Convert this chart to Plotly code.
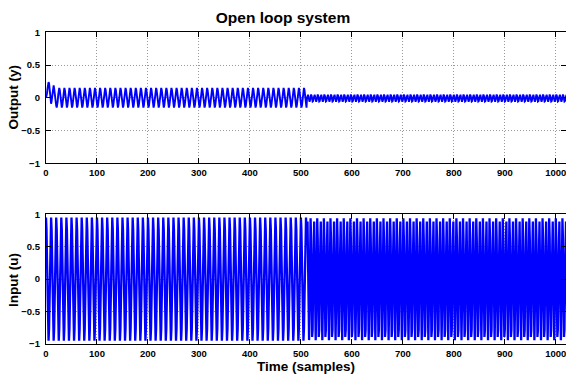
import numpy as np
import plotly.graph_objects as go
from plotly.subplots import make_subplots

# ---------------- data ----------------
n_samples = 1024          # sample index 0..1023
switch_sample = 512       # frequency change of the excitation

# input u: one cycle of the first (slow) part, period 10 samples
u_cycle_slow = [0.95, 0.77, 0.29, -0.29, -0.77, -0.95, -0.77, -0.29, 0.29, 0.77]
# input u: two cycles of the second (fast) part, 13 samples
u_cycle_fast = [0.78, 0.89, 0.23, -0.63, -0.94, -0.44, 0.44, 0.94, 0.63, -0.23, -0.89, -0.78, 0.0]

# output y: start-up transient (first 20 samples)
y_transient = [0.0, 0.02, 0.07, 0.14, 0.20, 0.24, 0.22, 0.14, 0.03, -0.06,
               -0.09, -0.05, 0.04, 0.12, 0.18, 0.19, 0.14, 0.05, -0.06, -0.12]
# output y: one steady cycle of the slow part, period 10 samples
y_cycle_slow = [-0.12, -0.15, -0.12, -0.05, 0.05, 0.12, 0.15, 0.12, 0.05, -0.05]
# output y: two cycles of the fast part, 13 samples
y_cycle_fast = [-0.005, 0.040, 0.046, 0.008, -0.041, -0.060, -0.031, 0.021, 0.050, 0.031, -0.018, -0.056, -0.050]

x_ticks = [0, 100, 200, 300, 400, 500, 600, 700, 800, 900, 1000]
y_ticks = [-1, -0.5, 0, 0.5, 1]
y_tick_text = ["\u22121", "\u22120.5", "0", "0.5", "1"]

# ---------------- build series from the read cycles ----------------
t = np.arange(n_samples)
n_fast = n_samples - switch_sample

u = np.concatenate([
    np.resize(u_cycle_slow, switch_sample),
    np.resize(u_cycle_fast, n_fast),
])
y = np.concatenate([
    y_transient,
    np.resize(y_cycle_slow, switch_sample - len(y_transient)),
    np.resize(y_cycle_fast, n_fast),
])

# ---------------- figure ----------------
W, H = 566, 376
L, R, T, B = 46, 0, 32, 32
PW, PH = W - L - R, H - T - B

def py(pix):
    """pixel row -> paper y"""
    return (H - B - pix) / PH

def px(pix):
    """pixel column -> paper x"""
    return (pix - L) / PW

fig = make_subplots(rows=2, cols=1, vertical_spacing=0.0)

fig.add_trace(go.Scatter(x=t, y=y, mode="lines",
                         line=dict(color="#0000ff", width=1.9),
                         showlegend=False, hoverinfo="skip"), row=1, col=1)
fig.add_trace(go.Scatter(x=t, y=u, mode="lines",
                         line=dict(color="#0000ff", width=2.3),
                         showlegend=False, hoverinfo="skip"), row=2, col=1)

FONT = "Liberation Sans, Arial, sans-serif"
tick_font = dict(family=FONT, size=9.5, color="black", weight="bold")
label_font = dict(family=FONT, size=13.5, color="black", weight="bold")

common_x = dict(range=[0, 1020], tickvals=x_ticks, ticks="inside", ticklen=5,
                tickwidth=1, tickcolor="black", showline=True, linecolor="black",
                linewidth=1.3, mirror="ticks", showgrid=True, gridcolor="#9a9a9a",
                griddash="1px,2px", gridwidth=1, zeroline=False, tickfont=tick_font,
                ticklabelstandoff=0, automargin=False, ticklabeloverflow="allow")
common_y = dict(range=[-1, 1], tickvals=y_ticks, ticktext=y_tick_text,
                ticks="inside", ticklen=5, tickwidth=1, tickcolor="black",
                showline=True, linecolor="black", linewidth=1.3, mirror="ticks",
                showgrid=True, gridcolor="#9a9a9a", griddash="1px,2px", gridwidth=1,
                zeroline=False, tickfont=tick_font, ticklabelstandoff=3,
                automargin=False)

fig.update_xaxes(**common_x)
fig.update_yaxes(**common_y)
fig.update_xaxes(domain=[0, 1], row=1, col=1)
fig.update_xaxes(domain=[0, 1], row=2, col=1)
fig.update_yaxes(domain=[py(163.3), py(32.3)], row=1, col=1)
fig.update_yaxes(domain=[py(344), py(214.3)], row=2, col=1)

annos = [
    dict(text="Output (y)", x=px(13), y=py(97.5), textangle=-90),
    dict(text="Input (u)", x=px(13), y=py(280), textangle=-90),
    dict(text="Time (samples)", x=px(306), y=py(366.5), textangle=0),
]
for a in annos:
    fig.add_annotation(xref="paper", yref="paper", xanchor="center",
                       yanchor="middle", showarrow=False, font=label_font, **a)

fig.update_layout(
    width=W, height=H,
    margin=dict(l=L, r=R, t=T, b=B, autoexpand=False),
    paper_bgcolor="white", plot_bgcolor="white",
    title=dict(text="Open loop system", x=283 / W, xref="container",
               xanchor="center", y=1 - 17.5 / H, yref="container",
               yanchor="middle", automargin=False,
               font=dict(family=FONT, size=15.5, color="black", weight="bold")),
)

fig.write_html(
    "out.html",
    config={"displayModeBar": False},
    post_script="document.body.style.margin='0';document.body.style.padding='0';"
                "document.body.style.overflow='hidden';",
)
